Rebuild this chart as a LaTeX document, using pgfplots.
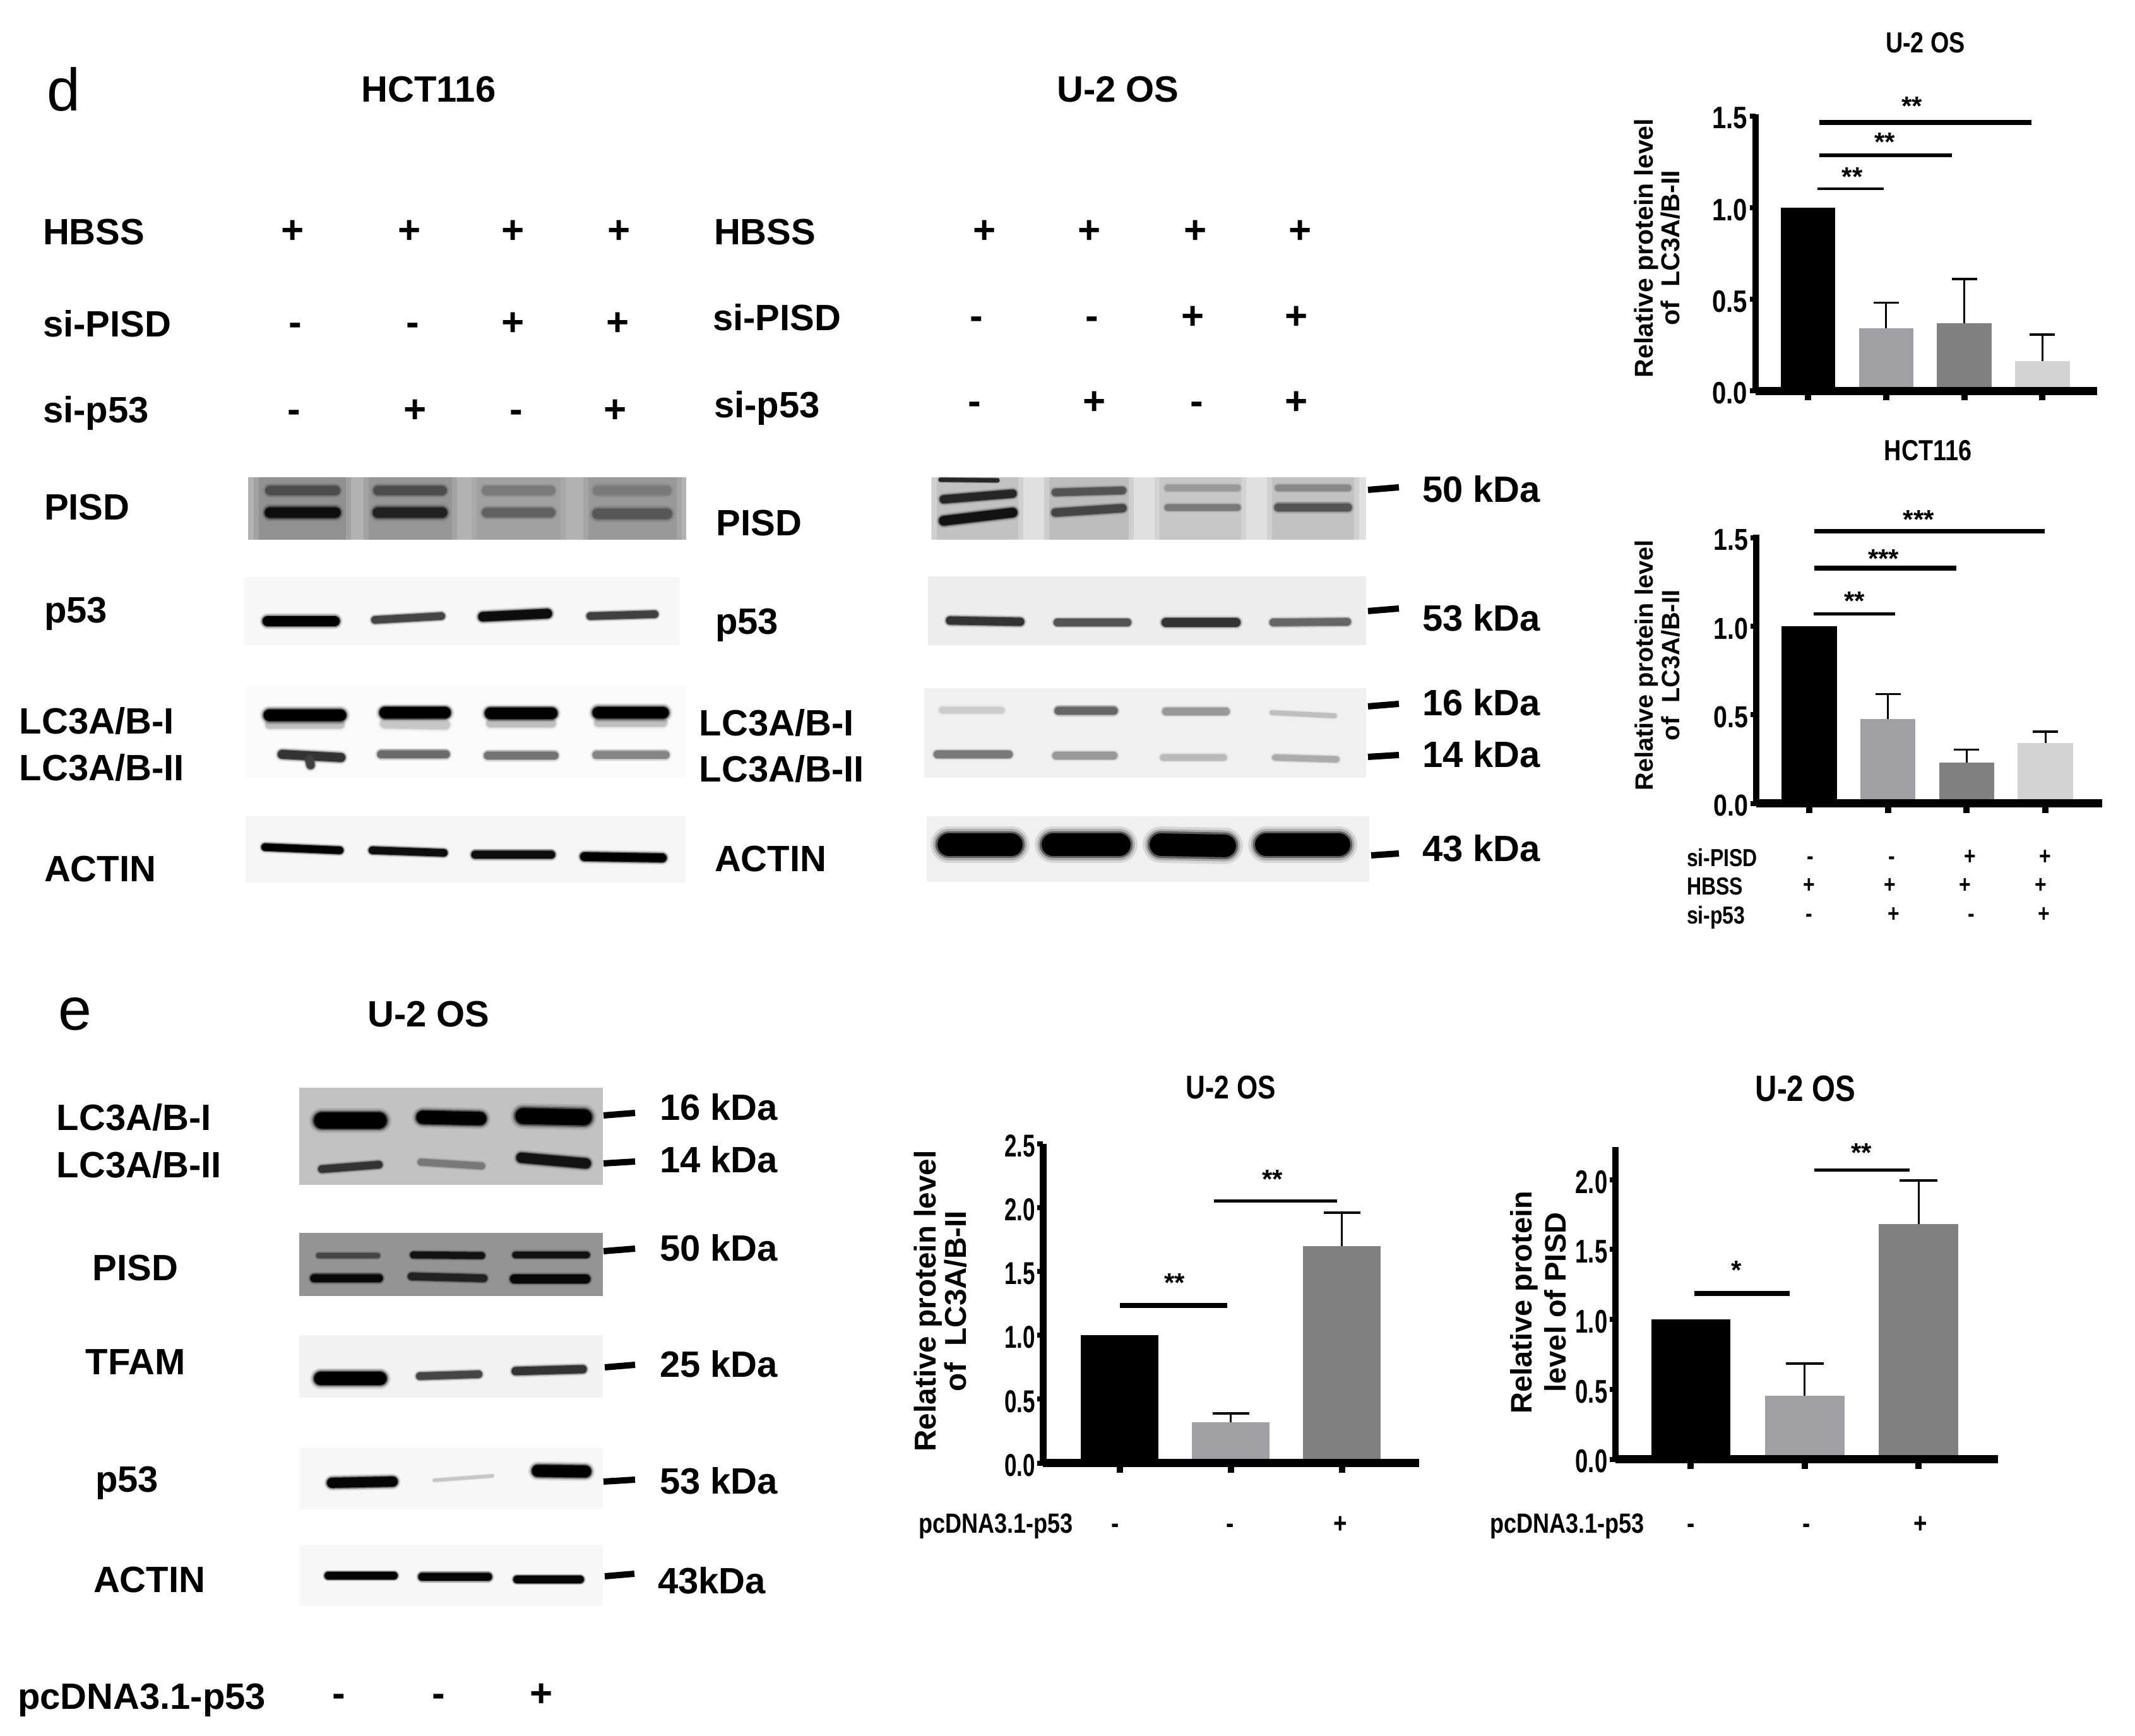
\documentclass[border=0pt]{standalone}
\usepackage{fontspec}
\setmainfont{Liberation Sans}
\newfontfamily\lsn[FakeStretch=0.82]{Liberation Sans}
\newfontfamily\lsm[FakeStretch=0.7]{Liberation Sans}
\usepackage{pgfplots}
\pgfplotsset{compat=1.18}

\definecolor{barA}{RGB}{160,160,164}
\definecolor{barB}{RGB}{128,128,128}
\definecolor{barC}{RGB}{211,211,211}

% blot helpers, coordinates are pixels of the reference
\newcommand\panel[5]{\addplot[fill=#5,draw=none] coordinates {(#1,#2)(#3,#2)(#3,#4)(#1,#4)};}
\newcommand\softp[5]{\addplot[fill=#5,draw=none,opacity=.5] coordinates {(#1,#2)(#3,#2)(#3,#4)(#1,#4)};}
\newcommand\band[6]{%
  \addplot[#6,opacity=.1,line width=#5*0.17pt,line cap=round] coordinates {(#1,#2)(#3,#4)};
  \addplot[#6,opacity=.2,line width=#5*0.145pt,line cap=round] coordinates {(#1,#2)(#3,#4)};
  \addplot[#6,opacity=.45,line width=#5*0.125pt,line cap=round] coordinates {(#1,#2)(#3,#4)};
  \addplot[#6,line width=#5*0.105pt,line cap=round] coordinates {(#1,#2)(#3,#4)};}
\newcommand\dashl[4]{\addplot[black,line width=1pt] coordinates {(#1,#2)(#3,#4)};}
\newcommand\lab[3]{\node[anchor=base west,xshift=-.3pt,yshift=-2.1pt,inner sep=0pt,font=\fontsize{5.8}{6}\selectfont\bfseries] at (axis cs:#1,#2) {#3};}
\newcommand\sg[3]{\node[anchor=base,yshift=-1.9pt,inner sep=0pt,font=\fontsize{6.2}{6}\selectfont\bfseries] at (axis cs:#1,#2) {#3};}
\newcommand\sml[4]{\node[anchor=base west,yshift=-.36*#1pt,inner sep=0pt,font=\fontsize{#1}{5}\selectfont\lsn\bfseries] at (axis cs:#2,#3) {#4};}
\newcommand\sms[4]{\node[anchor=base,yshift=-.3*#1pt,inner sep=0pt,font=\fontsize{#1}{5}\selectfont\lsn\bfseries] at (axis cs:#2,#3) {#4};}
\newcommand\ttl[4]{\node[inner sep=0pt,font=\fontsize{#1}{5}\selectfont\lsn\bfseries] at (axis cs:#2,#3) {#4};}
\newcommand\ylab[4]{\node[rotate=90,inner sep=0pt,font=\fontsize{#1}{5}\selectfont\bfseries] at (axis cs:#2,#3) {#4};}

% bar chart helpers
\newcommand\bbar[3]{\addplot[ybar,bar shift=0pt,bar width=\bw,fill=#3,draw=none,
  error bars/.cd,y dir=plus,y explicit,error bar style={black,line width=.3pt},
  error mark options={rotate=90,black,line width=.35pt,mark size=\capw}] coordinates #2;}
\newcommand\bbz[1]{\addplot[ybar,bar shift=0pt,bar width=\bw,fill=black,draw=none] coordinates {#1};}
\newcommand\sig[4]{\addplot[black,line width=#4*0.1pt] coordinates {(#1,#3)(#2,#3)};}
\newcommand\stars[3]{\node[anchor=base,yshift=-2pt,inner sep=0pt,font=\fontsize{4.2}{5}\selectfont\bfseries] at (axis cs:#1,#2) {#3};}

\pgfplotsset{
  gp/.style={
    scale only axis, anchor=south west, clip=false, axis on top,
    axis x line*=bottom, axis y line*=left,
    x axis line style={-,line width=1.3pt},
    y axis line style={-,line width=1.05pt},
    xtick style={black,line width=1pt,/pgfplots/major tick length=1.5pt},
    ytick style={black,line width=.8pt,/pgfplots/major tick length=.9pt},
    tick align=outside, ymin=0,
    xticklabels={},
    /pgf/number format/fixed,/pgf/number format/fixed zerofill,/pgf/number format/precision=1,
    /pgf/number format/assume math mode=true,
    yticklabel style={inner xsep=0pt,inner ysep=0pt,xshift=3.2pt,yshift=-.35pt},
  },
}

\begin{document}
\begin{tikzpicture}
\useasboundingbox (0,0) rectangle (338.2pt,275pt);

\begin{axis}[scale only axis,anchor=south west,at={(0pt,0pt)},width=338.2pt,height=275pt,
  xmin=0,xmax=3382,ymin=0,ymax=2750,y dir=reverse,hide axis,clip=false]

% ---- panel d, HCT116 blots
\panel{393}{756}{1087}{855}{black!30}
\softp{402}{756}{556}{855}{black!43}
\softp{576}{756}{724}{855}{black!41}
\softp{747}{756}{896}{855}{black!37}
\softp{924}{756}{1080}{855}{black!40}
\panel{410}{756}{548}{855}{black!43}
\panel{584}{756}{716}{855}{black!41}
\panel{755}{756}{888}{855}{black!37}
\panel{932}{756}{1072}{855}{black!40}
\band{428}{777}{531}{777}{14}{black!70}
\band{599}{777}{700}{777}{14}{black!70}
\band{771}{777}{872}{777}{14}{black!52}
\band{947}{777}{1056}{777}{14}{black!52}
\band{428}{812}{531}{812}{16}{black!95}
\band{599}{812}{700}{812}{16}{black!87}
\band{771}{812}{872}{812}{14}{black!62}
\band{947}{814}{1056}{814}{16}{black!66}

\panel{387}{914}{1077}{1022}{black!3}
\band{424}{984}{530}{984}{15}{black!100}
\band{594}{982}{699}{976}{11}{black!73}
\band{765}{977}{867}{972}{14}{black!95}
\band{935}{976}{1037}{973}{11}{black!75}

\panel{389}{1087}{1086}{1232}{black!2}
\band{427}{1148}{539}{1148}{12}{black!25}
\band{610}{1146}{705}{1148}{14}{black!22}
\band{777}{1146}{874}{1146}{12}{black!25}
\band{948}{1145}{1050}{1145}{12}{black!25}
\band{427}{1133}{539}{1133}{18}{black!100}
\band{610}{1129}{705}{1129}{17}{black!100}
\band{777}{1130}{874}{1130}{17}{black!100}
\band{948}{1129}{1050}{1129}{18}{black!100}
\band{447}{1195}{540}{1200}{13}{black!80}
\band{490}{1203}{492}{1212}{12}{black!75}
\band{604}{1195}{706}{1195}{12}{black!58}
\band{773}{1197}{878}{1197}{12}{black!55}
\band{945}{1196}{1054}{1196}{12}{black!48}

\panel{389}{1293}{1086}{1398}{black!4}
\band{420}{1342}{538}{1347}{11}{black!100}
\band{590}{1347}{703}{1351}{11}{black!95}
\band{753}{1354}{873}{1354}{12}{black!95}
\band{926}{1357}{1049}{1359}{13}{black!100}

% ---- panel d, U-2 OS blots
\panel{1475}{756}{2164}{855}{black!12}
\softp{1476}{756}{1621}{855}{black!24}
\softp{1654}{756}{1796}{855}{black!26}
\softp{1829}{756}{1974}{855}{black!22}
\softp{2007}{756}{2153}{855}{black!24}
\panel{1484}{756}{1613}{855}{black!24}
\panel{1662}{756}{1788}{855}{black!26}
\panel{1837}{756}{1966}{855}{black!22}
\panel{2015}{756}{2145}{855}{black!24}
\band{1490}{760}{1580}{761}{6}{black!85}
\band{1495}{791}{1604}{782}{12}{black!85}
\band{1495}{825}{1604}{812}{14}{black!93}
\band{1672}{780}{1778}{777}{11}{black!67}
\band{1672}{812}{1778}{805}{12}{black!73}
\band{1850}{773}{1960}{773}{10}{black!40}
\band{1850}{804}{1960}{804}{10}{black!53}
\band{2025}{773}{2135}{773}{10}{black!47}
\band{2025}{804}{2135}{804}{12}{black!67}

\panel{1470}{913}{2164}{1022}{black!7}
\band{1505}{983}{1616}{985}{12}{black!80}
\band{1675}{986}{1786}{986}{11}{black!67}
\band{1847}{986}{1958}{986}{13}{black!80}
\band{2017}{986}{2134}{985}{11}{black!60}

\panel{1464}{1090}{2164}{1232}{black!6}
\band{1493}{1125}{1586}{1125}{10}{black!20}
\band{1677}{1126}{1764}{1126}{12}{black!60}
\band{1847}{1127}{1942}{1127}{11}{black!40}
\band{2015}{1129}{2114}{1134}{7}{black!25}
\band{1485}{1195}{1598}{1195}{11}{black!53}
\band{1673}{1197}{1764}{1197}{11}{black!40}
\band{1843}{1200}{1938}{1200}{10}{black!27}
\band{2020}{1200}{2117}{1203}{9}{black!33}

\panel{1468}{1293}{2169}{1397}{black!6}
\band{1503}{1338}{1602}{1338}{34}{black!100}
\band{1668}{1338}{1773}{1338}{34}{black!100}
\band{1839}{1338}{1940}{1340}{34}{black!100}
\band{2006}{1338}{2121}{1338}{34}{black!100}

\dashl{2167}{776}{2216}{772}
\dashl{2167}{968}{2216}{964}
\dashl{2167}{1119}{2216}{1115}
\dashl{2167}{1199}{2216}{1196}
\dashl{2172}{1355}{2216}{1352}

% ---- panel e blots
\panel{474}{1723}{955}{1877}{black!24}
\band{510}{1775}{600}{1775}{24}{black!100}
\band{670}{1770}{760}{1772}{20}{black!100}
\band{829}{1768}{925}{1770}{24}{black!100}
\band{510}{1852}{600}{1845}{11}{black!80}
\band{667}{1841}{763}{1847}{10}{black!53}
\band{826}{1834}{928}{1843}{15}{black!93}

\panel{474}{1953}{955}{2053}{black!42}
\band{505}{1989}{598}{1989}{8}{black!73}
\band{655}{1988}{763}{1989}{10}{black!93}
\band{817}{1988}{929}{1988}{10}{black!93}
\band{498}{2025}{600}{2025}{12}{black!97}
\band{652}{2022}{766}{2025}{11}{black!87}
\band{815}{2026}{928}{2026}{13}{black!97}

\panel{474}{2115}{955}{2214}{black!5}
\band{508}{2184}{602}{2184}{20}{black!100}
\band{665}{2180}{758}{2177}{11}{black!73}
\band{817}{2172}{923}{2169}{12}{black!80}

\panel{474}{2293}{955}{2391}{black!3}
\band{526}{2349}{622}{2347}{15}{black!98}
\band{688}{2345}{780}{2338}{5}{black!22}
\band{852}{2330}{927}{2331}{18}{black!100}

\panel{474}{2447}{955}{2544}{black!3}
\band{520}{2496}{624}{2496}{11}{black!98}
\band{669}{2498}{773}{2498}{12}{black!98}
\band{819}{2502}{919}{2502}{11}{black!98}

\dashl{956}{1767}{1006}{1763}
\dashl{956}{1843}{1006}{1840}
\dashl{956}{1982}{1006}{1978}
\dashl{958}{2166}{1006}{2162}
\dashl{956}{2347}{1006}{2344}
\dashl{958}{2497}{1005}{2493}

% ---- panel letters and headings
\node[inner sep=0pt,font=\fontsize{9.5}{11}\selectfont] at (axis cs:101,142) {d};
\node[inner sep=0pt,font=\fontsize{9.5}{11}\selectfont] at (axis cs:119,1606) {e};
\node[inner sep=0pt,font=\fontsize{5.8}{6}\selectfont\bfseries] at (axis cs:679,142) {HCT116};
\node[inner sep=0pt,font=\fontsize{5.8}{6}\selectfont\bfseries] at (axis cs:1771,142) {U-2 OS};
\node[inner sep=0pt,font=\fontsize{5.8}{6}\selectfont\bfseries] at (axis cs:679,1607) {U-2 OS};

\lab{69}{367}{HBSS}
\lab{69}{513}{si-PISD}
\lab{69}{649}{si-p53}
\lab{71}{803}{PISD}
\lab{71}{966}{p53}
\lab{32}{1142}{LC3A/B-I}
\lab{32}{1216}{LC3A/B-II}
\lab{71}{1376}{ACTIN}
\sg{464}{367}{+}\sg{649}{367}{+}\sg{813}{367}{+}\sg{981}{367}{+}
\sg{468}{513}{-}\sg{654}{513}{-}\sg{813}{513}{+}\sg{979}{513}{+}
\sg{466}{651}{-}\sg{658}{651}{+}\sg{818}{651}{-}\sg{975}{651}{+}

\lab{1132}{367}{HBSS}
\lab{1130}{503}{si-PISD}
\lab{1132}{641}{si-p53}
\lab{1136}{828}{PISD}
\lab{1134}{984}{p53}
\lab{1109}{1145}{LC3A/B-I}
\lab{1109}{1218}{LC3A/B-II}
\lab{1133}{1360}{ACTIN}
\sg{1560}{367}{+}\sg{1726}{367}{+}\sg{1894}{367}{+}\sg{2060}{367}{+}
\sg{1547}{503}{-}\sg{1730}{503}{-}\sg{1890}{503}{+}\sg{2054}{503}{+}
\sg{1544}{638}{-}\sg{1734}{638}{+}\sg{1896}{638}{-}\sg{2054}{638}{+}

\lab{2254}{775}{50 kDa}
\lab{2254}{979}{53 kDa}
\lab{2254}{1113}{16 kDa}
\lab{2254}{1195}{14 kDa}
\lab{2254}{1344}{43 kDa}

\lab{91}{1770}{LC3A/B-I}
\lab{91}{1845}{LC3A/B-II}
\lab{148}{2008}{PISD}
\lab{137}{2157}{TFAM}
\lab{152}{2343}{p53}
\lab{149}{2502}{ACTIN}
\lab{1046}{1754}{16 kDa}
\lab{1046}{1837}{14 kDa}
\lab{1046}{1977}{50 kDa}
\lab{1046}{2161}{25 kDa}
\lab{1046}{2346}{53 kDa}
\lab{1043}{2504}{43kDa}
\lab{29}{2687}{pcDNA3.1-p53}
\sg{537}{2685}{-}\sg{695}{2685}{-}\sg{858}{2685}{+}

% ---- bar chart titles, y labels, condition rows
\ttl{4.6}{3050}{68}{U-2 OS}
\ylab{4.1}{2608}{393}{Relative protein level}
\ylab{4.1}{2646}{393}{of\ \ LC3A/B-II}
\ttl{4.6}{3054}{714}{HCT116}
\ylab{3.97}{2608}{1054}{Relative protein level}
\ylab{3.97}{2646}{1054}{of\ \ LC3A/B-II}
\sml{3.9}{2670}{1358}{si-PISD}
\sml{3.9}{2670}{1403}{HBSS}
\sml{3.9}{2670}{1449}{si-p53}
\sms{3.9}{2868}{1358}{-}\sms{3.9}{2997}{1358}{-}\sms{3.9}{3121}{1358}{+}\sms{3.9}{3240}{1358}{+}
\sms{3.9}{2866}{1403}{+}\sms{3.9}{2994}{1403}{+}\sms{3.9}{3113}{1403}{+}\sms{3.9}{3233}{1403}{+}
\sms{3.9}{2866}{1449}{-}\sms{3.9}{3000}{1449}{+}\sms{3.9}{3123}{1449}{-}\sms{3.9}{3238}{1449}{+}

\ttl{5.2}{1950}{1723}{U-2 OS}
\ylab{4.77}{1470}{2061}{Relative protein level}
\ylab{4.77}{1514}{2061}{of\ \ LC3A/B-II}
\sml{4.4}{1453}{2413}{pcDNA3.1-p53}
\sms{4.5}{1767}{2415}{-}\sms{4.5}{1949}{2415}{-}\sms{4.5}{2123}{2415}{+}

\ttl{5.8}{2860}{1725}{U-2 OS}
\ylab{4.7}{2414}{2063}{Relative protein}
\ylab{4.7}{2464}{2063}{level of PISD}
\sml{4.4}{2358}{2413}{pcDNA3.1-p53}
\sms{4.5}{2679}{2415}{-}\sms{4.5}{2862}{2415}{-}\sms{4.5}{3042}{2415}{+}
\end{axis}

% ---- U-2 OS, LC3A/B-II after si-PISD / si-p53
\def\bw{8.65pt}\def\capw{2pt}
\begin{axis}[gp,at={(278.1pt,213.05pt)},width=54.1pt,height=43.88pt,
  xmin=-0.671,xmax=3.70,ymax=1.51,xtick={0,1,2,3},ytick={0,0.5,1,1.5},
  yticklabel style={font=\fontsize{4.9}{5}\selectfont\lsn\bfseries}]
\bbz{(0,1.0)}
\bbar{1}{{(1,0.342) +- (0,0.139)}}{barA}
\bbar{2}{{(2,0.370) +- (0,0.241)}}{barB}
\bbar{3}{{(3,0.164) +- (0,0.143)}}{barC}
\sig{0.142}{2.86}{1.465}{8}
\sig{0.142}{1.84}{1.286}{6.3}
\sig{0.12}{0.97}{1.103}{4.5}
\stars{1.33}{1.574}{**}
\stars{0.98}{1.376}{**}
\stars{0.567}{1.187}{**}
\end{axis}

% ---- HCT116, LC3A/B-II after si-PISD / si-p53
\def\bw{8.75pt}\def\capw{2pt}
\begin{axis}[gp,at={(278.2pt,147.74pt)},width=54.8pt,height=42.52pt,
  xmin=-0.672,xmax=3.72,ymax=1.517,xtick={0,1,2,3},ytick={0,0.5,1,1.5},
  yticklabel style={font=\fontsize{4.8}{5}\selectfont\lsn\bfseries}]
\bbz{(0,1.0)}
\bbar{1}{{(1,0.476) +- (0,0.141)}}{barA}
\bbar{2}{{(2,0.231) +- (0,0.073)}}{barB}
\bbar{3}{{(3,0.340) +- (0,0.065)}}{barC}
\sig{0.068}{2.987}{1.539}{7}
\sig{0.068}{1.872}{1.328}{8}
\sig{0.055}{1.094}{1.071}{4.7}
\stars{1.39}{1.623}{***}
\stars{0.945}{1.403}{***}
\stars{0.574}{1.162}{**}
\end{axis}

% ---- U-2 OS, LC3A/B-II after pcDNA3.1-p53
\def\bw{12.34pt}\def\capw{2.9pt}
\begin{axis}[gp,at={(165.25pt,43.22pt)},width=59.55pt,height=50.62pt,
  xmin=-0.688,xmax=2.696,ymax=2.5,xtick={0,1,2},ytick={0,0.5,1,1.5,2,2.5},
  yticklabel style={font=\fontsize{5}{5}\selectfont\lsm\bfseries}]
\bbz{(0,1.0)}
\bbar{1}{{(1,0.32) +- (0,0.07)}}{barA}
\bbar{2}{{(2,1.70) +- (0,0.26)}}{barB}
\sig{0}{0.97}{1.232}{7.6}
\sig{0.848}{1.96}{2.05}{5}
\stars{0.496}{1.436}{**}
\stars{1.376}{2.25}{**}
\end{axis}

% ---- U-2 OS, PISD after pcDNA3.1-p53
\def\bw{12.57pt}\def\capw{3pt}
\begin{axis}[gp,at={(255.9pt,43.84pt)},width=60.6pt,height=49.49pt,
  xmin=-0.662,xmax=2.697,ymax=2.235,xtick={0,1,2},ytick={0,0.5,1,1.5,2},
  yticklabel style={font=\fontsize{5.2}{5}\selectfont\lsm\bfseries}]
\bbz{(0,1.0)}
\bbar{1}{{(1,0.452) +- (0,0.232)}}{barA}
\bbar{2}{{(2,1.684) +- (0,0.311)}}{barB}
\sig{0.032}{0.866}{1.187}{8}
\sig{1.083}{1.92}{2.069}{5}
\stars{0.40}{1.378}{*}
\stars{1.497}{2.219}{**}
\end{axis}
\end{tikzpicture}
\end{document}
